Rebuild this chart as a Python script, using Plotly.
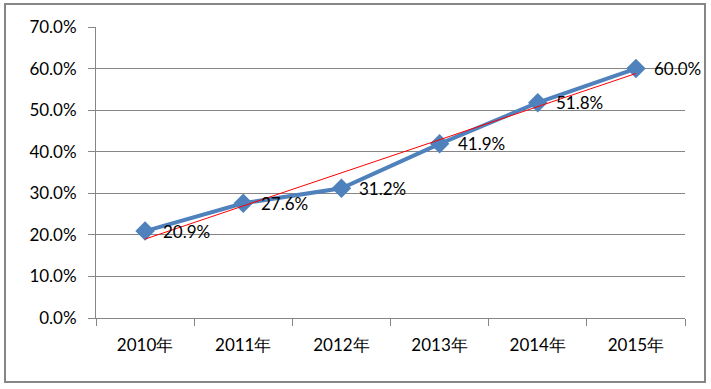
import numpy as np
import plotly.graph_objects as go

categories = ["2010年", "2011年", "2012年", "2013年", "2014年", "2015年"]
values = [0.209, 0.276, 0.312, 0.419, 0.518, 0.600]
labels = ["20.9%", "27.6%", "31.2%", "41.9%", "51.8%", "60.0%"]
y_ticks = [0, 0.1, 0.2, 0.3, 0.4, 0.5, 0.6, 0.7]

xi = np.arange(len(values))
slope, intercept = np.polyfit(xi, values, 1)
trend = [intercept + slope * xi[0], intercept + slope * xi[-1]]

FONT = "Lato, Carlito, Liberation Sans, sans-serif"
FS = 17

fig = go.Figure()
fig.add_trace(go.Scatter(
    x=categories, y=values, mode="lines+markers",
    line=dict(color="#4F81BD", width=4),
    marker=dict(symbol="diamond", size=15, color="#4F81BD"),
    cliponaxis=False, showlegend=False, hoverinfo="skip",
))
fig.add_trace(go.Scatter(
    x=[categories[0], categories[-1]], y=trend, mode="lines",
    line=dict(color="#FF0000", width=1), showlegend=False, hoverinfo="skip",
))

annotations = [
    dict(x=c, y=v, text=t, xref="x", yref="y", showarrow=False,
         xanchor="left", yanchor="middle", xshift=16, yshift=0,
         font=dict(family=FONT, size=FS, color="#000000"))
    for c, v, t in zip(categories, values, labels)
]

fig.update_layout(
    width=711, height=389,
    margin=dict(l=96, r=26, t=27, b=71),
    paper_bgcolor="white", plot_bgcolor="white",
    font=dict(family=FONT, size=FS, color="#000000"),
    xaxis=dict(
        type="category", categoryorder="array", categoryarray=categories,
        range=[-0.5, 5.5], showgrid=False,
        showline=True, linecolor="#868686", linewidth=1,
        ticks="outside", ticklen=7, tickcolor="#868686",
        tickson="boundaries", ticklabelstandoff=12,
        tickfont=dict(family=FONT, size=FS), fixedrange=True,
    ),
    yaxis=dict(
        range=[0, 0.7], tickvals=y_ticks, tickformat=".1%",
        showgrid=True, gridcolor="#868686", gridwidth=1,
        showline=True, linecolor="#868686", linewidth=1,
        ticks="outside", ticklen=7, tickcolor="#868686",
        ticklabelstandoff=8,
        zeroline=False, tickfont=dict(family=FONT, size=FS), fixedrange=True,
    ),
    annotations=annotations,
    shapes=[dict(
        type="rect", xref="paper", yref="paper",
        x0=(5 - 96) / 589, x1=(705 - 96) / 589,
        y0=(318 - 382) / 291, y1=(318 - 4) / 291,
        line=dict(color="#868686", width=2), fillcolor="rgba(0,0,0,0)", layer="below",
    )],
)

fig.write_html(
    "out.html",
    config={"displayModeBar": False, "staticPlot": True},
    post_script="document.body.style.margin='0';document.body.style.overflow='hidden';",
)
